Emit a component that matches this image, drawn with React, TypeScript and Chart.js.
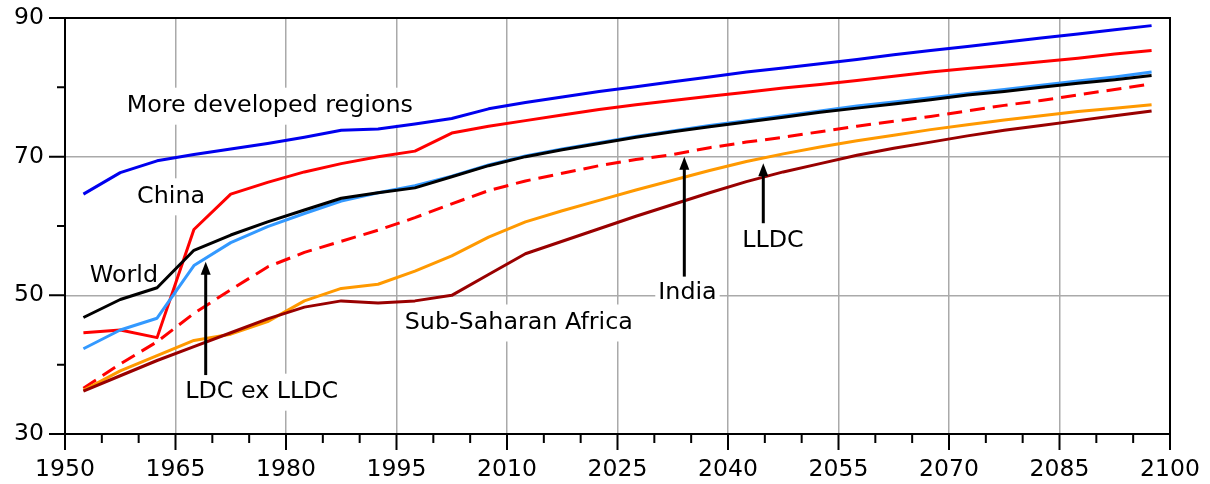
import React, { useEffect, useRef } from 'react';
import { Chart, registerables } from 'chart.js';

Chart.register(...registerables);

const FONT = '"DejaVu Sans", Verdana, sans-serif';

// Period mid-points (5-year periods)
const years = [
  1952.5, 1957.5, 1962.5, 1967.5, 1972.5, 1977.5, 1982.5, 1987.5, 1992.5, 1997.5,
  2002.5, 2007.5, 2012.5, 2017.5, 2022.5, 2027.5, 2032.5, 2037.5, 2042.5, 2047.5,
  2052.5, 2057.5, 2062.5, 2067.5, 2072.5, 2077.5, 2082.5, 2087.5, 2092.5, 2097.5,
];

const moreDeveloped = [
  64.6, 67.7, 69.4, 70.3, 71.1, 71.9, 72.8, 73.8, 74.0, 74.7,
  75.5, 76.9, 77.8, 78.6, 79.4, 80.1, 80.8, 81.5, 82.2, 82.8,
  83.4, 84.0, 84.7, 85.3, 85.9, 86.5, 87.1, 87.7, 88.3, 88.9,
];
const china = [
  44.6, 45.0, 43.9, 59.5, 64.6, 66.3, 67.8, 69.0, 70.0, 70.8,
  73.4, 74.4, 75.2, 76.0, 76.8, 77.5, 78.1, 78.7, 79.3, 79.9,
  80.4, 81.0, 81.6, 82.2, 82.7, 83.2, 83.7, 84.2, 84.8, 85.3,
];
const world = [
  46.8, 49.4, 51.1, 56.5, 58.7, 60.6, 62.3, 64.0, 64.8, 65.5,
  67.1, 68.7, 70.0, 71.0, 71.9, 72.8, 73.6, 74.3, 75.0, 75.7,
  76.4, 77.0, 77.6, 78.2, 78.9, 79.4, 80.0, 80.6, 81.1, 81.7,
];
const ldcExLldc = [
  42.3, 45.0, 46.7, 54.3, 57.6, 59.9, 61.8, 63.6, 64.8, 65.8,
  67.2, 68.8, 70.1, 71.1, 72.0, 72.9, 73.7, 74.5, 75.2, 75.9,
  76.6, 77.3, 77.9, 78.5, 79.1, 79.7, 80.3, 80.9, 81.5, 82.2,
];
const india = [
  36.6, 40.1, 43.3, 47.4, 50.8, 54.1, 56.2, 57.8, 59.4, 61.2,
  63.2, 65.1, 66.5, 67.6, 68.7, 69.6, 70.3, 71.3, 72.1, 72.8,
  73.6, 74.4, 75.1, 75.8, 76.6, 77.4, 78.1, 78.9, 79.7, 80.5,
];
const lldc = [
  36.3, 39.1, 41.3, 43.5, 44.4, 46.2, 49.2, 51.0, 51.6, 53.5,
  55.7, 58.4, 60.6, 62.2, 63.7, 65.2, 66.6, 68.0, 69.3, 70.4,
  71.4, 72.3, 73.1, 73.9, 74.6, 75.3, 75.9, 76.5, 77.0, 77.5,
];
const subSaharan = [
  36.2, 38.4, 40.6, 42.6, 44.6, 46.6, 48.3, 49.2, 48.9, 49.2,
  50.0, 53.0, 56.0, 57.8, 59.6, 61.4, 63.1, 64.8, 66.4, 67.8,
  69.0, 70.2, 71.2, 72.1, 73.0, 73.8, 74.5, 75.2, 75.9, 76.6,
];

// Axis ticks
const xMin = 1950;
const xMax = 2100;
const xMajorStep = 15;
const xMinorStep = 5;
const yMin = 30;
const yMax = 90;
const yMajorStep = 20;
const yMinorStep = 10;

// Text labels (year, value at text centre)
const labelTexts = ['More developed regions', 'China', 'World', 'LDC ex LLDC', 'Sub-Saharan Africa', 'India', 'LLDC'];
const labelYears = [1977.8, 1964.4, 1958.0, 1976.7, 2011.6, 2034.5, 2046.1];
const labelValues = [77.64, 64.57, 53.18, 36.39, 46.37, 50.77, 58.27];

// Arrows (year, from value, to value)
const arrowYears = [1969.1, 2034.07, 2044.79];
const arrowFrom = [38.5, 52.7, 60.4];
const arrowTo = [54.85, 70.0, 69.04];

const annotPlugin = {
  id: 'annot',
  beforeDatasetsDraw(chart: any) {
    const { ctx, scales } = chart;
    const x = scales.x;
    const y = scales.y;
    const size = 23.8;
    ctx.save();
    ctx.font = `${size}px ${FONT}`;
    ctx.textAlign = 'center';
    ctx.textBaseline = 'alphabetic';
    labelTexts.forEach((t, i) => {
      const px = x.getPixelForValue(labelYears[i]);
      const py = y.getPixelForValue(labelValues[i]);
      const w = ctx.measureText(t).width;
      ctx.fillStyle = '#ffffff';
      ctx.fillRect(px - w / 2 - 3, py - 16, w + 6, 37);
      ctx.fillStyle = '#000000';
      ctx.fillText(t, px, py + size * 0.365);
    });
    ctx.restore();
  },
  afterDatasetsDraw(chart: any) {
    const { ctx, scales, chartArea } = chart;
    const x = scales.x;
    const y = scales.y;
    ctx.save();
    // arrows
    ctx.strokeStyle = '#000';
    ctx.fillStyle = '#000';
    arrowYears.forEach((yr, i) => {
      const px = x.getPixelForValue(yr);
      const p0 = y.getPixelForValue(arrowFrom[i]);
      const p1 = y.getPixelForValue(arrowTo[i]);
      const headLen = 13;
      ctx.lineWidth = 3;
      ctx.beginPath();
      ctx.moveTo(px, p0);
      ctx.lineTo(px, p1 + headLen - 1);
      ctx.stroke();
      ctx.beginPath();
      ctx.moveTo(px, p1);
      ctx.lineTo(px - 5, p1 + headLen);
      ctx.lineTo(px + 5, p1 + headLen);
      ctx.closePath();
      ctx.fill();
    });

    // frame and tick marks
    const L = chartArea.left;
    const R = chartArea.right;
    const T = chartArea.top;
    const B = chartArea.bottom;
    ctx.strokeStyle = '#000';
    ctx.lineWidth = 2;
    ctx.lineCap = 'butt';
    ctx.beginPath();
    ctx.moveTo(L, T);
    ctx.lineTo(L, B);
    ctx.moveTo(L - 1, B);
    ctx.lineTo(R + 1, B);
    ctx.moveTo(L - 1, T);
    ctx.lineTo(R + 1, T);
    ctx.moveTo(R, T);
    ctx.lineTo(R, B);
    ctx.stroke();

    ctx.beginPath();
    for (let v = yMin; v <= yMax; v += yMinorStep) {
      const py = y.getPixelForValue(v);
      const major = (v - yMin) % yMajorStep === 0;
      ctx.moveTo(L - (major ? 16 : 8), py);
      ctx.lineTo(L, py);
    }
    for (let v = xMin; v <= xMax; v += xMinorStep) {
      const px = x.getPixelForValue(v);
      const major = (v - xMin) % xMajorStep === 0;
      ctx.moveTo(px, B);
      ctx.lineTo(px, B + (major ? 16 : 9));
    }
    ctx.stroke();
    ctx.restore();
  },
};

function series(label: string, values: number[], color: string, dash?: number[]) {
  return {
    label,
    data: years.map((yr, i) => ({ x: yr, y: values[i] })),
    borderColor: color,
    backgroundColor: color,
    borderWidth: 3,
    borderDash: dash || [],
    pointRadius: 0,
    tension: 0,
    fill: false,
    borderJoinStyle: 'round',
  };
}

function fixWidth(w: number) {
  return (s: any) => {
    s.width = w;
    s.paddingTop = 0;
    s.paddingBottom = 0;
    s.paddingLeft = 0;
    s.paddingRight = 0;
  };
}
function fixHeight(h: number) {
  return (s: any) => {
    s.height = h;
    s.paddingTop = 0;
    s.paddingBottom = 0;
    s.paddingLeft = 0;
    s.paddingRight = 0;
  };
}

export default function App() {
  const ref = useRef<HTMLCanvasElement>(null);
  useEffect(() => {
    const canvas = ref.current;
    if (!canvas) return;
    const chart = new Chart(canvas, {
      type: 'line',
      data: {
        datasets: [
          series('Sub-Saharan Africa', subSaharan, '#990000'),
          series('LLDC', lldc, '#ff9900'),
          series('India', india, '#ff0000', [15, 8]),
          series('World', world, '#000000'),
          series('LDC ex LLDC', ldcExLldc, '#3399ff'),
          series('China', china, '#ff0000'),
          series('More developed regions', moreDeveloped, '#0000ee'),
        ] as any,
      },
      options: {
        animation: false,
        responsive: false,
        maintainAspectRatio: false,
        devicePixelRatio: 1,
        layout: { autoPadding: false, padding: { top: 18, right: 40, left: 0, bottom: 0 } },
        plugins: {
          legend: { display: false },
          tooltip: { enabled: false },
        },
        scales: {
          x: {
            type: 'linear',
            min: xMin,
            max: xMax,
            afterFit: fixHeight(50),
            ticks: {
              stepSize: xMajorStep,
              autoSkip: false,
              maxRotation: 0,
              padding: 22,
              color: '#000',
              font: { family: FONT, size: 23.5 },
              callback: (v: any) => String(v),
            },
            grid: { color: '#aaaaaa', lineWidth: 1.5, drawTicks: false },
            border: { display: false },
          },
          y: {
            type: 'linear',
            min: yMin,
            max: yMax,
            afterFit: fixWidth(65),
            ticks: {
              stepSize: yMajorStep,
              padding: 21,
              color: '#000',
              font: { family: FONT, size: 23.5 },
              callback: (v: any) => String(v),
            },
            grid: { color: '#aaaaaa', lineWidth: 1.5, drawTicks: false },
            border: { display: false },
          },
        },
      } as any,
      plugins: [annotPlugin],
    });
    return () => chart.destroy();
  }, []);
  return (
    <div style={{ position: 'absolute', left: 0, top: 0, width: 1210, height: 484, background: '#fff' }}>
      <canvas ref={ref} width={1210} height={484} style={{ display: 'block' }} />
    </div>
  );
}
